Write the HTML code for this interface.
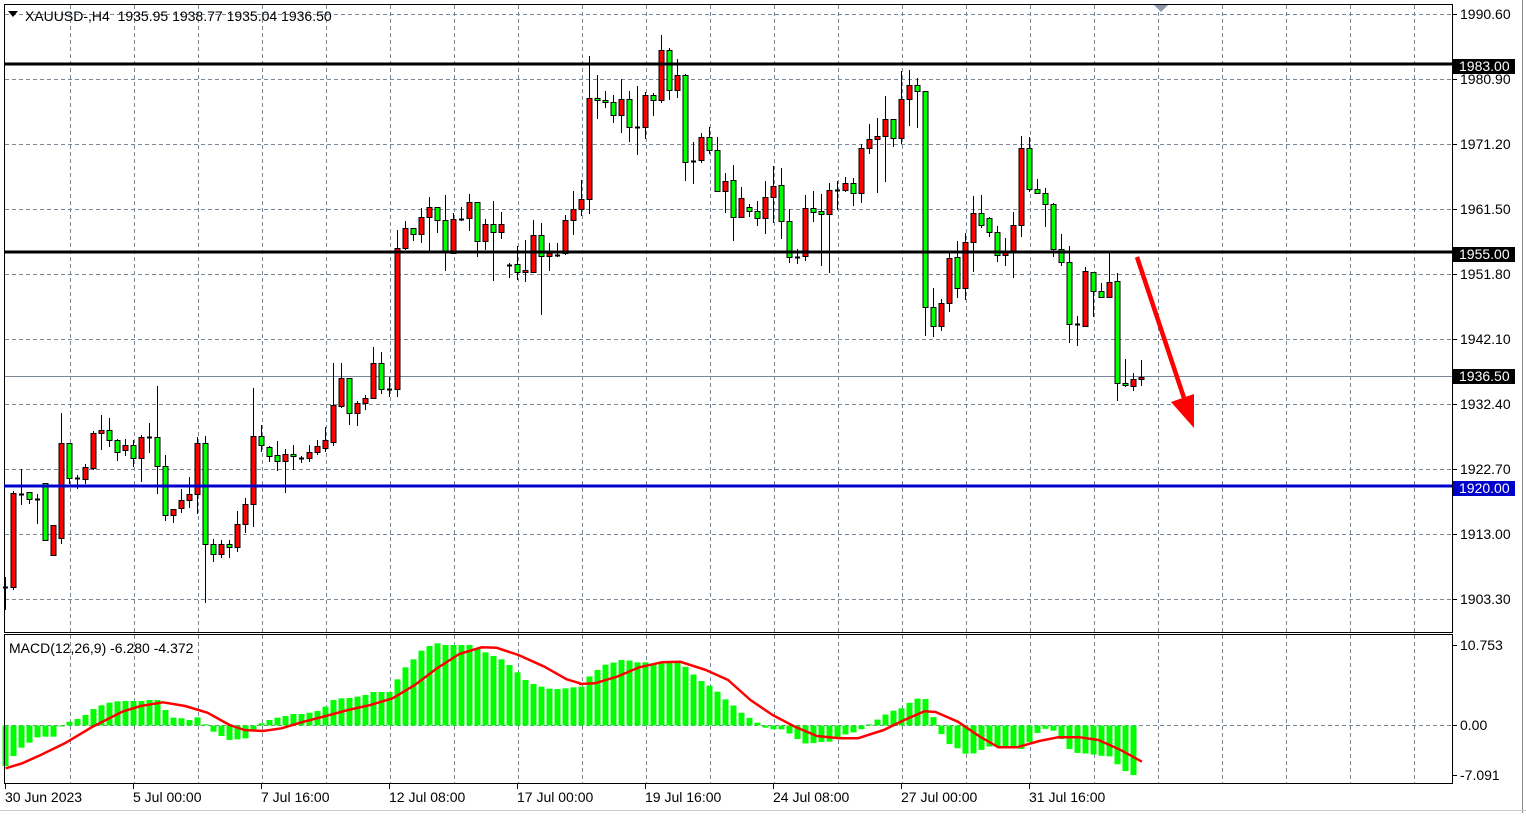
<!DOCTYPE html>
<html><head><meta charset="utf-8">
<style>
html,body{margin:0;padding:0;background:#fff;}
body{width:1526px;height:813px;overflow:hidden;font-family:"Liberation Sans",sans-serif;}
svg text{font-family:"Liberation Sans",sans-serif;font-size:14px;}
</style></head><body>
<svg id="s" width="1526" height="813" xmlns="http://www.w3.org/2000/svg">
<rect x="0" y="0" width="1526" height="813" fill="#fff"/>
<g id="grid"></g>
<g id="cand"></g>
<g id="macd"></g>
<rect x="4.5" y="4.5" width="1448" height="628" fill="none" stroke="#000"/>
<rect x="4.5" y="634.5" width="1448" height="149" fill="none" stroke="#000"/>
<line x1="1522.5" y1="0" x2="1522.5" y2="813" stroke="#888"/>
<line x1="0" y1="810.5" x2="1526" y2="810.5" stroke="#ccc"/>
<line x1="4" y1="64" x2="1452" y2="64" stroke="#000" stroke-width="3"/>
<line x1="4" y1="252" x2="1452" y2="252" stroke="#000" stroke-width="3"/>
<line x1="4" y1="486" x2="1452" y2="486" stroke="#0000cc" stroke-width="3"/>
<line x1="1137" y1="257" x2="1184" y2="398" stroke="#f00" stroke-width="4.5"/>
<polygon points="1194,428 1171,402 1194,394" fill="#f00"/>
<polygon points="1154,5 1168,5 1161,12" fill="#8a9aa8"/>
<polygon points="8,11 18,11 13,17" fill="#000"/>
<text x="25" y="21" fill="#000" xml:space="preserve">XAUUSD-,H4  1935.95 1938.77 1935.04 1936.50</text>
<text x="9" y="653" fill="#000">MACD(12,26,9) -6.280 -4.372</text>
<g id="axis"></g>
</svg>
<script>
var NS="http://www.w3.org/2000/svg";
function el(p,t,a,txt){var e=document.createElementNS(NS,t);for(var k in a)e.setAttribute(k,a[k]);if(txt!=null)e.textContent=txt;document.getElementById(p).appendChild(e);return e;}
var gy=[14,79,144,209,274,339,404,469,534,599];
gy.forEach(function(y){el('grid','line',{x1:5,y1:y+.5,x2:1452,y2:y+.5,stroke:'#7a8796','stroke-dasharray':'4,3'});});
for(var x=70;x<1452;x+=64){el('grid','line',{x1:x+.5,y1:5,x2:x+.5,y2:632,stroke:'#7a8796','stroke-dasharray':'4,3'});el('grid','line',{x1:x+.5,y1:635,x2:x+.5,y2:783,stroke:'#7a8796','stroke-dasharray':'4,3'});}
el('grid','line',{x1:5,y1:376.5,x2:1452,y2:376.5,stroke:'#7a8796'});
el('grid','line',{x1:5,y1:725.5,x2:1452,y2:725.5,stroke:'#7a8796','stroke-dasharray':'4,3'});
var D="d,577,587,587,610|r,491,493,587,590|d,469,494,494,505|g,492,492,499,504|d,494,499,499,524|g,483,483,540,540|r,525,525,555,555|r,413,443,538,544|g,443,443,478,484|d,475,478,478,489|r,464,467,479,484|r,431,433,468,470|r,415,430,433,450|g,418,430,440,447|g,439,440,452,461|r,439,445,450,456|g,440,445,458,467|r,435,437,458,482|d,423,437,437,453|g,386,437,466,494|g,455,466,515,521|r,509,509,515,523|r,489,500,508,513|r,477,494,500,508|r,437,443,494,514|g,436,443,544,603|g,539,544,554,562|r,540,544,554,558|g,540,544,547,558|r,511,524,547,552|r,498,504,524,533|r,388,436,504,527|g,425,436,445,452|g,446,447,456,462|g,441,455,461,471|r,449,454,461,493|g,445,454,456,470|d,456,458,458,463|r,445,452,458,462|r,440,446,452,455|r,427,440,448,452|r,363,405,442,446|r,363,378,406,408|g,378,378,413,425|r,401,403,413,426|r,395,398,403,410|r,347,363,398,399|g,352,363,389,394|d,377,389,389,397|r,230,248,389,397|r,221,228,248,250|g,228,228,234,241|r,208,217,234,243|r,197,207,217,251|g,207,207,220,233|g,195,220,251,271|r,213,219,253,254|d,207,219,219,221|r,194,202,218,231|g,202,202,241,257|r,219,224,241,250|g,201,224,232,281|r,212,224,232,239|d,263,265,265,278|g,246,264,272,280|r,240,270,272,282|r,220,235,272,273|g,223,235,256,315|r,243,253,256,271|d,243,255,255,257|r,215,220,253,255|r,191,209,220,235|r,180,199,209,216|r,56,98,199,214|g,75,98,100,119|g,91,100,102,108|g,95,102,115,123|r,79,99,115,133|g,91,99,127,142|d,86,127,127,155|r,92,95,127,139|g,93,95,100,116|r,35,50,100,103|g,48,50,90,100|r,59,75,90,98|g,74,75,162,181|d,142,161,161,184|r,133,137,160,163|g,127,137,150,154|g,137,150,191,192|r,173,181,191,213|g,165,180,217,241|r,187,198,217,218|g,204,207,211,217|g,201,211,218,226|r,181,197,218,234|r,166,186,197,223|g,168,185,221,239|g,209,221,257,263|d,249,257,257,264|r,195,208,256,261|g,191,208,212,222|g,194,211,214,266|r,183,190,214,273|d,181,190,190,210|r,177,183,190,192|g,178,183,193,206|r,144,148,193,203|r,124,139,148,154|r,118,136,139,193|r,96,119,136,182|g,119,119,138,147|r,71,99,138,144|r,70,85,99,126|g,78,85,91,128|g,91,91,307,336|g,288,307,326,337|r,299,303,326,331|r,253,258,303,312|g,241,257,288,298|r,233,242,288,300|r,196,213,242,272|g,195,213,225,228|g,217,218,232,237|g,226,232,255,262|r,238,252,255,266|r,212,225,252,278|r,136,148,225,237|g,137,148,189,192|g,179,189,193,193|g,188,193,204,227|g,203,204,249,257|g,234,249,262,266|g,246,262,324,343|d,316,324,324,346|r,267,271,326,327|g,272,272,291,317|g,283,291,297,297|r,253,282,297,297|g,273,281,383,401|g,359,383,385,387|r,373,379,386,391|r,360,377,379,386".split('|');
D.forEach(function(s,i){var p=s.split(',');var cx=5+8*i;var c=p[0],wt=+p[1],bt=+p[2],bb=+p[3],wb=+p[4];
 el('cand','line',{x1:cx+.5,y1:wt,x2:cx+.5,y2:wb,stroke:'#000'});
 if(c=='d'||bb-bt<1){el('cand','line',{x1:cx-2,y1:bt+.5,x2:cx+3,y2:bt+.5,stroke:'#000','stroke-width':2});}
 else el('cand','rect',{x:cx-2,y:bt+.5,width:5,height:bb-bt,fill:c=='r'?'#ff0000':'#00ff00',stroke:'#000'});
});
var h1=[408,378,353,338,322,320,320,287,275,267,255,237,226,218,214,213,213,213,210,210,240,263,265,270,262,283,305,318,330,328,325,300,280,270,263,258,252,252,248,243,230,210,205,204,200,195,186,186,186,148,112,88,62,48,40,45,45,45,45,55,67,78,88,105,127,150,162,170,176,177,175,172];
var h2=[170,138,118,102,97,88,93,99,96,104,88,98,100,124,148,162,178,204,222,246,262,277,293,298,298,312,330,343,338,335,335,318,310,305,290,275,260,243,240,222,208,198,255,310,342,355,372,370,358,348,350,355,355,358,322,298,295,310,350,368,370,372,378,375,400,422,435,443];
function hv(i){ if(i<h1.length) return h1[i]; var t=(i-h1.length)/(142-h1.length)*(h2.length-1); var a=Math.floor(t),b=Math.min(a+1,h2.length-1),f=t-a; return h2[a]*(1-f)+h2[b]*f;}
for(var i=0;i<142;i++){var cx=5+8*i;var y=630+hv(i)/3;var z=725.5;
 el('macd','rect',{x:cx-2.5,y:Math.min(y,z),width:6,height:Math.max(1,Math.abs(y-z)),fill:'#00ff00'});}
var p1=[[15,415],[60,400],[110,375],[175,340],[250,290],[330,245],[380,228],[440,217],[500,228],[560,248],[620,285],[660,300],[710,303],[760,295],[820,275],[880,258],[940,240],[1000,225],[1060,205],[1120,165],[1180,115],[1240,72],[1300,52],[1340,53],[1400,75],[1470,110],[1530,148],[1566,160]];
var p2=[[0,162],[40,160],[100,140],[160,112],[220,97],[270,95],[340,120],[400,150],[460,210],[520,255],[580,290],[640,318],[700,325],[750,325],[820,300],[880,268],[930,244],[960,246],[1020,275],[1080,320],[1130,352],[1180,352],[1240,333],[1290,322],[1350,322],[1400,330],[1460,360],[1517,395]];
var pts=p1.map(function(p){return (p[0]/2.7).toFixed(1)+','+(630+p[1]/3).toFixed(1);}).concat(p2.map(function(p){return (580+p[0]/2.7).toFixed(1)+','+(630+p[1]/3).toFixed(1);}));
el('macd','polyline',{points:pts.join(' '),fill:'none',stroke:'#ff0000','stroke-width':2.5,'stroke-linejoin':'round'});
var lab=[[14,'1990.60'],[79,'1980.90'],[144,'1971.20'],[209,'1961.50'],[274,'1951.80'],[339,'1942.10'],[404,'1932.40'],[469,'1922.70'],[534,'1913.00'],[599,'1903.30']];
lab.forEach(function(l){el('axis','line',{x1:1452,y1:l[0]+.5,x2:1457,y2:l[0]+.5,stroke:'#000'});el('axis','text',{x:1460,y:l[0]+5,fill:'#000'},l[1]);});
[[66,'1983.00','#000'],[254,'1955.00','#000'],[376,'1936.50','#000'],[488,'1920.00','#0000cc']].forEach(function(l){
 el('axis','rect',{x:1453,y:l[0]-7,width:62,height:15,fill:l[2]});el('axis','text',{x:1459,y:l[0]+5,fill:'#fff'},l[1]);});
[[645,'10.753'],[725,'0.00'],[775,'-7.091']].forEach(function(l){el('axis','line',{x1:1452,y1:l[0]+.5,x2:1457,y2:l[0]+.5,stroke:'#000'});el('axis','text',{x:1460,y:l[0]+5,fill:'#000'},l[1]);});
var dl=['30 Jun 2023','5 Jul 00:00','7 Jul 16:00','12 Jul 08:00','17 Jul 00:00','19 Jul 16:00','24 Jul 08:00','27 Jul 00:00','31 Jul 16:00'];
dl.forEach(function(t,i){var x=5+128*i;el('axis','line',{x1:x+.5,y1:784,x2:x+.5,y2:789,stroke:'#000'});el('axis','text',{x:x,y:802,fill:'#000'},t);});
</script>
</body></html>
